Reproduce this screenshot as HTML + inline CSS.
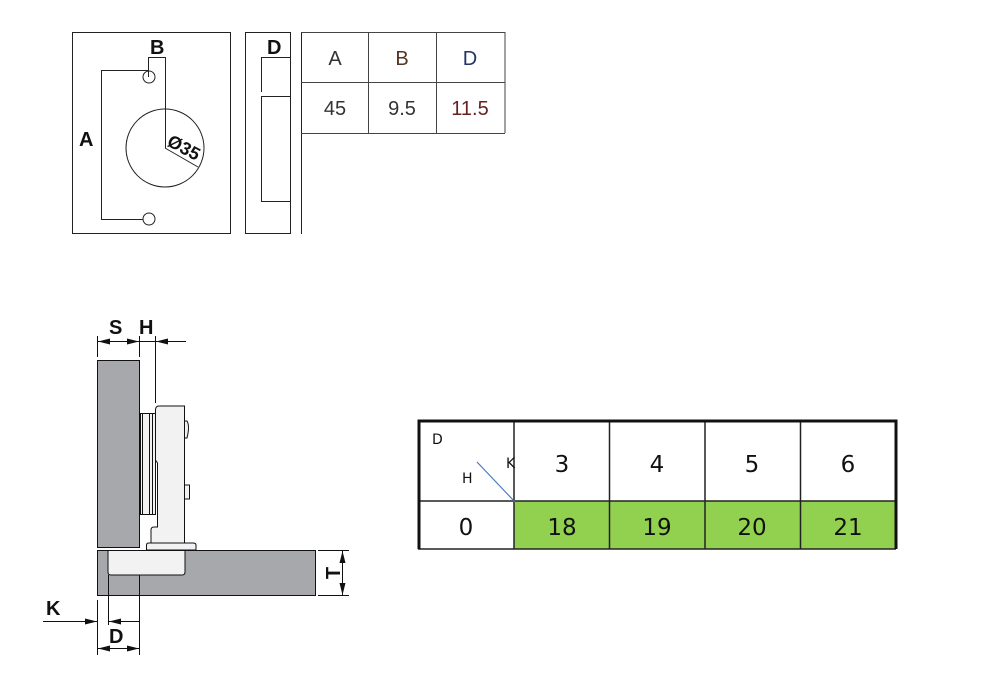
<!DOCTYPE html>
<html><head><meta charset="utf-8"><style>
html,body{margin:0;padding:0;background:#fff;}
svg{display:block;}
</style></head><body>
<svg width="992" height="695" viewBox="0 0 992 695" xmlns="http://www.w3.org/2000/svg" font-family="Liberation Sans, sans-serif">
<defs>
<marker id="ar" markerWidth="12" markerHeight="6" refX="12" refY="3" orient="auto" markerUnits="userSpaceOnUse"><path d="M0,0 L12,3 L0,6 Z" fill="#111"/></marker>
</defs>
<g stroke="#222" fill="none" stroke-width="1">
<rect x="72.5" y="32.5" width="158" height="201"/>
<path d="M148.5,77 V57.5 H165.5 V148"/>
<circle cx="149" cy="77" r="6"/>
<circle cx="149" cy="219" r="6"/>
<path d="M149,70.5 H101.5 V219.5 H143"/>
<circle cx="165" cy="148" r="39"/>
<path d="M165,148 L198,167"/>
<rect x="245.5" y="32.5" width="45" height="201"/>
<path d="M261.5,92 V57.5 H291"/>
<path d="M291,96.5 H261.5 V201.5 H291"/>
<path d="M301.5,32 V234"/>
<path d="M301,32.5 H505 M301,82.5 H505 M301,133.5 H505 M368.5,32 V133 M436.5,32 V133 M505,32 V133" stroke="#444"/>
</g>
<g font-weight="bold" font-size="20" fill="#111">
<text x="150" y="54">B</text>
<text x="79" y="146">A</text>
<text x="267" y="54">D</text>
<text x="166" y="145" font-size="18" transform="rotate(28 166 145)">Ø35</text>
</g>
<g font-size="20" text-anchor="middle" fill="#333">
<text x="335" y="65">A</text>
<text x="402" y="65" fill="#553322">B</text>
<text x="470" y="65" fill="#223366">D</text>
<text x="335" y="115">45</text>
<text x="402" y="115">9.5</text>
<text x="470" y="115" fill="#662222">11.5</text>
</g>
<g stroke="#111" stroke-width="1">
<rect x="97.5" y="360.5" width="42" height="187" fill="#a7a8ab"/>
<rect x="97.5" y="550.5" width="218" height="45" fill="#a7a8ab"/>
<path d="M108,550.5 V572 Q108,575 111,575 H182 Q185,575 185,572 V550.5 Z" fill="#f2f2f2"/>
<rect x="140.5" y="413.5" width="15" height="101" fill="#f2f2f2"/>
<path d="M142.5,414 V514 M149.5,414 V514 M152.5,414 V514" fill="none"/>
<path d="M155.5,410 Q155.5,406 159,406 H184.5 V543 H151 V530 Q151,527 154,527 H157.5 V463 L155.5,460 Z" fill="#f2f2f2"/>
<path d="M184.5,421 H187 Q190,426 187,438 H184.5 Z M184.5,485 H189.5 V499 H184.5 Z" fill="#f2f2f2"/>
<path d="M146.5,545 Q146.5,543 149,543 H193 Q196,543 196,545 V550 H146.5 Z" fill="#f2f2f2"/>
</g>
<g stroke="#111" stroke-width="1" fill="none">
<path d="M97.5,336 V357 M139.5,336 V357 M155.5,336 V403"/>
<path d="M118,341.5 H98" marker-end="url(#ar)"/>
<path d="M118,341.5 H139" marker-end="url(#ar)"/>
<path d="M186,341.5 H156" marker-end="url(#ar)"/>
<path d="M139.5,341.5 H156"/>
<path d="M318,550.5 H349 M318,595.5 H349"/>
<path d="M342.5,573 V551" marker-end="url(#ar)"/>
<path d="M342.5,573 V595" marker-end="url(#ar)"/>
<path d="M97.5,600 V655 M108.5,575 V625 M139.5,575 V655"/>
<path d="M43,621.5 H97" marker-end="url(#ar)"/>
<path d="M139,621.5 H109" marker-end="url(#ar)"/>
<path d="M118,648.5 H98" marker-end="url(#ar)"/>
<path d="M118,648.5 H139" marker-end="url(#ar)"/>
</g>
<g font-weight="bold" font-size="20" fill="#111">
<text x="109" y="334">S</text>
<text x="139" y="334">H</text>
<text x="46" y="615">K</text>
<text x="109" y="643">D</text>
<text x="333" y="573" transform="rotate(-90 333 573)" text-anchor="middle" dy="7">T</text>
</g>
<rect x="514" y="501" width="382" height="48" fill="#92d050"/>
<g stroke="#222" stroke-width="1.5" fill="none">
<path d="M418,501 H896 M514,420 V549 M609.5,420 V549 M705,420 V549 M800.5,420 V549"/>
<path d="M418,549 H896"/>
</g>
<path d="M419,549 V421 H896 V549" stroke="#111" stroke-width="3" fill="none"/>
<path d="M477,462 L515,502" stroke="#4a7ab8" stroke-width="1.2"/>
<g font-family="DejaVu Sans, sans-serif" fill="#111">
<text x="432" y="444" font-size="14">D</text>
<text x="462" y="483" font-size="14">H</text>
<text x="506" y="468" font-size="14">K</text>
<g font-size="23" text-anchor="middle">
<text x="562" y="472">3</text>
<text x="657" y="472">4</text>
<text x="752" y="472">5</text>
<text x="848" y="472">6</text>
<text x="466" y="535">0</text>
<text x="562" y="535">18</text>
<text x="657" y="535">19</text>
<text x="752" y="535">20</text>
<text x="848" y="535">21</text>
</g>
</g>
</svg>
</body></html>
